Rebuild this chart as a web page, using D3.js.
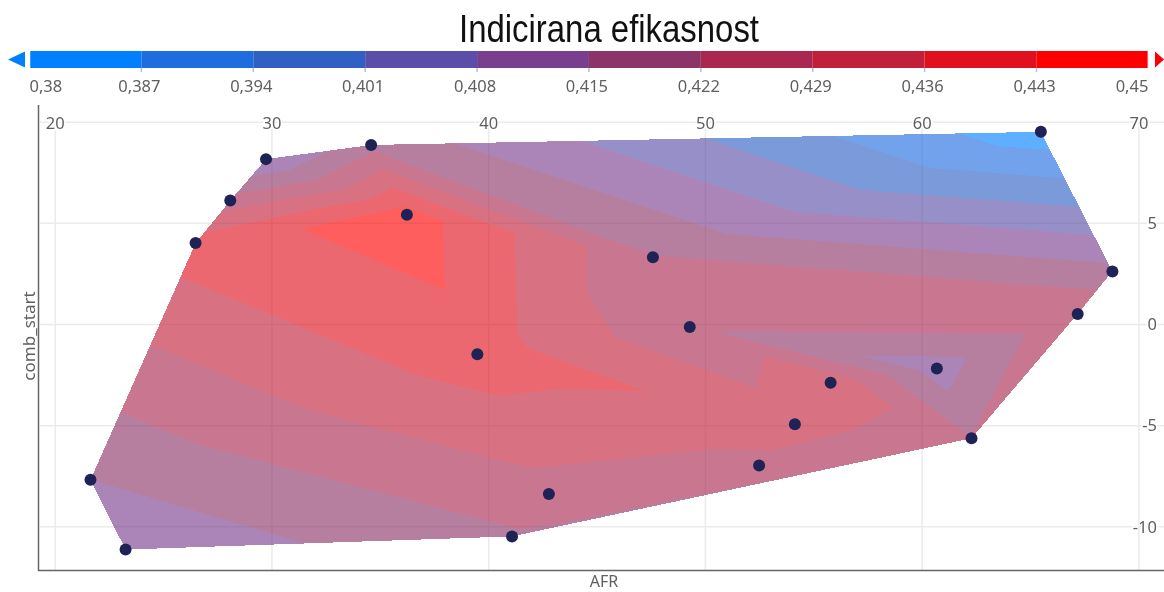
<!DOCTYPE html>
<html>
<head>
<meta charset="utf-8">
<script src="https://cdn.jsdelivr.net/npm/d3@7/dist/d3.min.js"></script>
<style>
	body{margin:0;background:#fff;}
	svg{display:block;filter:blur(0.5px);}
	text{font-family:"Noto Sans",sans-serif;fill:#606060;}
	.title{font-family:"Liberation Sans",sans-serif;fill:#111;}
	.tick text{paint-order:stroke;stroke:#fff;stroke-width:3px;}
</style>
</head>
<body>
<div id="chart"></div>
<script>
//Values, one entry per design point
const afr = [23.27,21.65,26.5,28.1,29.75,34.6,36.25,39.5,42.8,41.1,47.6,49.3,52.5,54.15,55.8,60.7,62.3,67.2,68.8,65.5];
const combStart = [-11.15,-7.7,4.0,6.1,8.15,8.85,5.4,-1.5,-8.4,-10.5,3.3,-0.15,-7.0,-4.95,-2.9,-2.2,-5.65,0.5,2.6,9.5];
const efficiency = [.4098,.415,.4395,.425,.408,.4196,.4465,.44,.4265,.421,.4225,.423,.427,.4325,.4344,.4114,.4223,.4284,.417,.3825];

//how the contour mesh joins the points (indexes into the arrays above)
const mesh = [
	[0,1,9],[1,9,7],[1,7,2],[7,8,9],[7,8,12],[7,12,13],[11,13,14],[7,11,13],[7,10,11],
	[6,7,10],[2,6,7],[2,3,6],[3,4,6],[4,5,6],[5,6,10],[5,10,19],[10,18,19],[10,17,18],
	[10,11,17],[11,15,17],[11,14,15],[14,15,16],[15,16,17],[13,14,16],[12,13,16],[8,9,12],[9,12,16]
];

const levels = [.38,.387,.394,.401,.408,.415,.422,.429,.436,.443,.45];
const levelLabels = ['0,38','0,387','0,394','0,401','0,408','0,415','0,422','0,429','0,436','0,443','0,45'];
const bandColors = ['#0080ff','#1f6ce0','#2f60c4','#5a4ea8','#7a3e8e','#8c3468','#aa2850','#c2203a','#e0101e','#ff0000'];
const xTicks = [20,30,40,50,60,70];
const yTicks = [5,0,-5,-10];

const W = 1164;
const H = 592;

const scaleX = d3.scaleLinear().domain([20,70]).range([54.7,1138.4]);
const scaleY = d3.scaleLinear().domain([10,-10]).range([121.7,526.3]);
const scaleLegend = d3.scaleLinear().domain([.38,.45]).range([29.5,1148.4]);

const svg = d3.select('#chart').append('svg')
	.attr('width', W).attr('height', H);

svg.append('text')
	.attr('class', 'title')
	.attr('x', 609).attr('y', 42)
	.attr('text-anchor', 'middle')
	.attr('textLength', 300)
	.attr('lengthAdjust', 'spacingAndGlyphs')
	.style('font-size', '38px')
	.text('Indicirana efikasnost');

drawLegend();
drawGrid();
drawContours();
drawPoints();

function drawLegend(){
	const legend = svg.append('g').attr('class', 'legend');

	legend.selectAll('rect')
		.data(bandColors)
		.enter()
		.append('rect')
		.attr('x', function(d,i){ return scaleLegend(levels[i]) })
		.attr('width', function(d,i){ return scaleLegend(levels[i+1]) - scaleLegend(levels[i]) })
		.attr('y', 51).attr('height', 17)
		.style('fill', function(d){ return d });

	//the little arrows for out of range values
	legend.append('path').attr('d', 'M8,59.5L25,51.5V67.5Z').style('fill', bandColors[0]);
	legend.append('path').attr('d', 'M1155,51.5L1164,59.5L1155,67.5Z').style('fill', bandColors[9]);

	legend.selectAll('.mark')
		.data(levels)
		.enter()
		.append('line')
		.attr('class', 'mark')
		.attr('x1', scaleLegend).attr('x2', scaleLegend)
		.attr('y1', function(d,i){ return (i==0 || i==10) ? 50 : 68 })
		.attr('y2', 72)
		.style('stroke', function(d,i){ return (i==0 || i==10) ? '#fff' : '#a9c4e8' })
		.style('stroke-width', 1.5);

	legend.selectAll('.level')
		.data(levelLabels)
		.enter()
		.append('text')
		.attr('class', 'level')
		.attr('x', function(d,i){ return scaleLegend(levels[i]) + ((i==0 || i==10) ? 0 : -2) })
		.attr('y', 92)
		.attr('text-anchor', function(d,i){ return i==0 ? 'start' : (i==10 ? 'end' : 'middle') })
		.style('font-size', '16.5px')
		.text(function(d){ return d });
}

function drawGrid(){
	const axisX = d3.axisBottom(scaleX)
		.tickValues(xTicks)
		.tickSize(570 - 121.7);
	const axisY = d3.axisLeft(scaleY)
		.tickValues([10].concat(yTicks))
		.tickFormat(function(d){ return d == 10 ? '' : String(d) })
		.tickSize(1164 - 40);

	const gridY = svg.append('g')
		.attr('class', 'axis axis-y')
		.attr('transform', 'translate(1164,0)')
		.call(axisY);
	gridY.select('.domain').remove();
	gridY.selectAll('line').style('stroke', '#ebebeb').style('stroke-width', 1.5);
	gridY.selectAll('text')
		.attr('x', -7).attr('text-anchor', 'end').attr('dy', '0.35em')
		.style('font-size', '16.5px');

	const gridX = svg.append('g')
		.attr('class', 'axis axis-x')
		.attr('transform', 'translate(0,121.7)')
		.call(axisX);
	gridX.select('.domain').remove();
	gridX.selectAll('line').style('stroke', '#ebebeb').style('stroke-width', 1.5);
	gridX.selectAll('text')
		.attr('y', -4).attr('dy', '0.71em')
		.style('font-size', '16.5px');

	//main axis lines
	svg.append('path')
		.attr('d', 'M38.5,105V570.5H1164')
		.style('fill', 'none')
		.style('stroke', '#666')
		.style('stroke-width', 1.5);

	svg.append('text')
		.attr('x', 604).attr('y', 587)
		.attr('text-anchor', 'middle')
		.style('font-size', '16px')
		.text('AFR');
	svg.append('text')
		.attr('transform', 'translate(35,336) rotate(-90)')
		.attr('text-anchor', 'middle')
		.style('font-size', '17px')
		.text('comb_start');
}

//keep the part of a triangle whose value is on the right side of a level
function clipPoly(poly, level, keepAbove){
	const out = [];
	poly.forEach(function(p,i){
		const q = poly[(i+1) % poly.length];
		const pIn = keepAbove ? p[2] >= level : p[2] <= level;
		const qIn = keepAbove ? q[2] >= level : q[2] <= level;
		if(pIn) out.push(p);
		if(pIn != qIn){
			const t = (level - p[2]) / (q[2] - p[2]);
			out.push([p[0] + t*(q[0]-p[0]), p[1] + t*(q[1]-p[1]), level]);
		}
	});
	return out;
}

function drawContours(){
	const nodes = afr.map(function(d,i){
		return [scaleX(d), scaleY(combStart[i]), efficiency[i]];
	});
	const line = d3.line();

	//one path per band, crisp edges so the bands butt together without seams
	const bands = bandColors.map(function(c,i){
		let d = '';
		mesh.forEach(function(m){
			const tri = m.map(function(k){ return nodes[k] });
			let poly = clipPoly(tri, levels[i], true);
			if(poly.length) poly = clipPoly(poly, levels[i+1], false);
			if(poly.length > 2) d += line(poly.map(function(p){ return [p[0],p[1]] })) + 'Z';
		});
		return {d:d, color:c};
	});

	svg.append('g')
		.attr('class', 'contours')
		.style('opacity', 0.63)
		.selectAll('path')
		.data(bands)
		.enter()
		.append('path')
		.attr('d', function(d){ return d.d })
		.attr('fill-rule', 'evenodd')
		.attr('shape-rendering', 'crispEdges')
		.style('fill', function(d){ return d.color });
}

function drawPoints(){
	svg.append('g')
		.selectAll('circle')
		.data(afr)
		.enter()
		.append('circle')
		.attr('cx', function(d){ return scaleX(d) })
		.attr('cy', function(d,i){ return scaleY(combStart[i]) })
		.attr('r', 6)
		.style('fill', '#1f2255');
}
</script>
</body>
</html>
